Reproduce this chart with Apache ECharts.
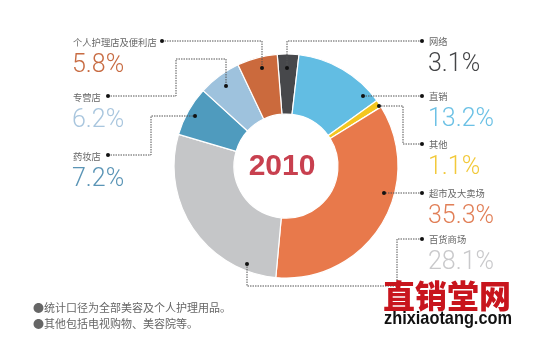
<!DOCTYPE html>
<html><head><meta charset="utf-8">
<script src="https://cdn.jsdelivr.net/npm/echarts@6/dist/echarts.min.js"></script>
<style>html,body{margin:0;padding:0;background:#fff}#c{width:550px;height:356px}</style>
</head><body><div id="c"></div>
<script>
// ---- data ----
const categories = ['网络','直销','其他','超市及大卖场','百货商场','药妆店','专营店','个人护理店及便利店'];
const shares = [3.1, 13.2, 1.1, 35.3, 28.1, 7.2, 6.2, 5.8];
const centerTitle = '2010';
const notes = ['●统计口径为全部美容及个人护理用品。', '●其他包括电视购物、美容院等。'];
const watermark = ['直销堂网', 'zhixiaotang.com'];

// ---- styles / layout ----
const sliceColors = ['#47484b','#62bde3','#f4c620','#e8794b','#c5c6c8','#4f9bbe','#9ec2dd','#cb6a3d'];
const valueColors = ['#444547','#6cc1e5','#f2c93a','#e17f57','#c9c9cb','#5b95b6','#a9c6de','#c86c43'];
const labelPos = [
  {x:429, y:41, pts:[[422,41],[287,41],[287,68]]},
  {x:429, y:96, pts:[[422,96],[363,96]]},
  {x:429, y:144, pts:[[422,144],[403,144],[403,106],[379,106]]},
  {x:429, y:193, pts:[[422,193],[384,193]]},
  {x:429, y:239, pts:[[422,239],[397,239],[397,286],[247,286],[247,264]]},
  {x:73, y:156, pts:[[108,155],[151,155],[151,116],[195,116]]},
  {x:73, y:97, pts:[[108,96],[176,96],[176,59],[226,59],[226,86]]},
  {x:73, y:42, pts:[[162,41],[262,41],[262,68]]}
];

function textWidth(font, txt){
  const c = document.createElement('canvas').getContext('2d');
  c.font = font; return c.measureText(txt).width;
}

const chart = echarts.init(document.getElementById('c'), null, {renderer:'canvas'});
const graphics = [];
categories.forEach((name, i) => {
  const L = labelPos[i];
  graphics.push({type:'polyline', silent:true, z:5,
    shape:{points:L.pts}, style:{stroke:'#555', lineWidth:1, lineDash:[1.5,1], fill:null}});
  [L.pts[0], L.pts[L.pts.length-1]].forEach(p => graphics.push({type:'circle', silent:true, z:6,
    shape:{cx:p[0], cy:p[1], r:2}, style:{fill:'#111'}}));
  graphics.push({type:'text', silent:true, z:5, x:L.x, y:L.y,
    style:{text:name, fill:'#666', font:'9.3px "Noto Sans CJK SC", sans-serif', textVerticalAlign:'middle', textAlign:'left'}});
  graphics.push({type:'text', silent:true, z:5, x:L.x - 1, y:L.y + 24,
    style:{text:shares[i].toFixed(1) + '%', fill:valueColors[i], font:'300 25px Roboto, "Liberation Sans", sans-serif', textVerticalAlign:'middle', textAlign:'left'}});
});
graphics.push({type:'text', silent:true, z:10, x:282, y:167,
  style:{text:centerTitle, fill:'#c8404f', font:'bold 30px "Liberation Sans", Arial, sans-serif', textAlign:'center', textVerticalAlign:'middle'}});
notes.forEach((t, i) => graphics.push({type:'text', silent:true, z:5, x:33, y:308 + i*16,
  style:{text:t, fill:'#666', font:'11px "Noto Sans CJK SC", sans-serif', textVerticalAlign:'middle'}}));
graphics.push({type:'text', silent:true, z:20, x:383, y:296,
  style:{text:watermark[0], fill:'#c8151d', font:'900 32px "Noto Sans CJK SC", sans-serif', textVerticalAlign:'middle'}});
const wmFont = 'bold 19px "Liberation Sans", sans-serif';
const wmScale = 128 / textWidth(wmFont, watermark[1]);
graphics.push({type:'text', silent:true, z:20, x:384, y:319, scaleX:wmScale, originX:0, originY:0,
  style:{text:watermark[1], fill:'#111', font:wmFont, textVerticalAlign:'middle'}});

chart.setOption({
  backgroundColor:'#fff',
  animation:false,
  series:[{
    type:'pie',
    center:[286,166],
    radius:[52,112],
    startAngle:94.5,
    clockwise:true,
    silent:true,
    label:{show:false},
    labelLine:{show:false},
    itemStyle:{borderColor:'#fff', borderWidth:1.2},
    data: categories.map((n,i)=>({name:n, value:shares[i], itemStyle:{color:sliceColors[i]}}))
  }],
  graphic: graphics
});
</script></body></html>
